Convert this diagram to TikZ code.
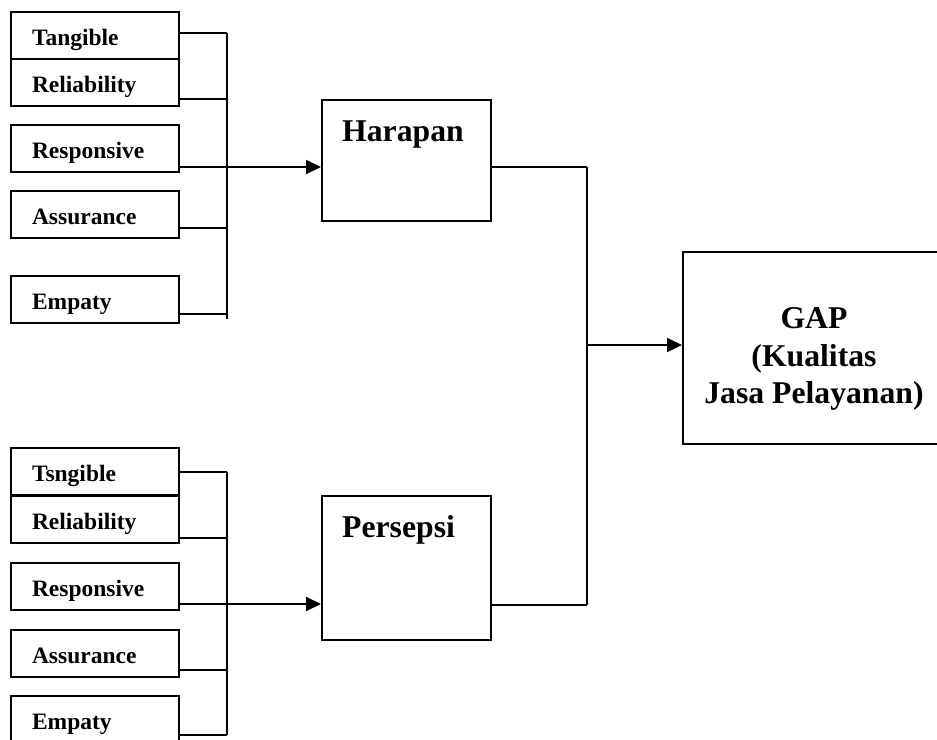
\documentclass[tikz,border=0pt]{standalone}
\usepackage{fontspec}
\setmainfont{Liberation Serif}
\usetikzlibrary{arrows.meta}

\tikzset{
  garis/.style = {line width=2pt},
  panah/.style = {garis, -{Triangle[length=15pt,width=14pt]}},
  faktor/.style = {draw, garis, minimum width=168pt, minimum height=47pt,
    inner xsep=21pt, inner ysep=0pt, text width=126pt, align=left,
    text height=22pt, text depth=2pt,
    font=\fontsize{23.5pt}{28pt}\selectfont\bfseries},
  blok/.style = {draw, garis, minimum width=169pt, inner sep=0pt},
  judul/.style = {inner sep=0pt, align=center,
    font=\fontsize{31.7pt}{37.5pt}\selectfont\bfseries}
}

\begin{document}
\begin{tikzpicture}[x = 1pt, y = -1pt]
\clip (0,0) rectangle (937,739);
% dimensi harapan
\node [faktor] (htang) at (95,35) {Tangible};
\node [faktor] (hrel) at (95,82) {Reliability};
\node [faktor] (hresp) at (95,148) {Responsive};
\node [faktor] (hass) at (95,214.5) {Assurance};
\node [faktor] (hemp) at (95,299) {Empaty};
% dimensi persepsi
\node [faktor] (ptang) at (95,471) {Tsngible};
\node [faktor] (prel) at (95,519.5) {Reliability};
\node [faktor] (presp) at (95,586.5) {Responsive};
\node [faktor] (pass) at (95,653) {Assurance};
\node [faktor] (pemp) at (95,719) {Empaty};
% kotak tengah dan kanan
\node [blok, minimum height=121pt] (harapan) at (406.5,160.5) {};
\node [judul, anchor=base west] (tharapan) at ([xshift=21pt,yshift=-42pt]harapan.north west) {Harapan};
\node [blok, minimum height=144pt] (persepsi) at (406.5,568) {};
\node [judul, anchor=base west] (tpersepsi) at ([xshift=21pt,yshift=-42pt]persepsi.north west) {Persepsi};
\node [blok, minimum width=262pt, minimum height=192pt] (gap) at (814,348) {};
\node [judul] (tgap) at (814,359) {GAP\\(Kualitas\\Jasa Pelayanan)};

% garis kumpul harapan
\coordinate (hatas) at (227,33);
\coordinate (hbawah) at (227,319);
\draw [garis] (hatas) -- (hbawah);
\draw [garis] ([yshift=2pt]htang.east) -- (hatas);
\draw [garis] ([yshift=-17pt]hrel.east) -- ++(48,0);
\draw [garis] ([yshift=-13.5pt]hass.east) -- ++(48,0);
\draw [garis] ([yshift=-15pt]hemp.east) -- ++(48,0);
\draw [panah] ([yshift=-19pt]hresp.east) -- ([yshift=-6.5pt]harapan.west);

% garis kumpul persepsi
\coordinate (patas) at (227,472);
\coordinate (pbawah) at (227,735);
\draw [garis] (patas) -- (pbawah);
\draw [garis] ([yshift=-1pt]ptang.east) -- (patas);
\draw [garis] ([yshift=-18.5pt]prel.east) -- ++(48,0);
\draw [garis] ([yshift=-17pt]pass.east) -- ++(48,0);
\draw [garis] ([yshift=-16pt]pemp.east) -- (pbawah);
\draw [panah] ([yshift=-17.5pt]presp.east) -- ([yshift=-36pt]persepsi.west);

% ke GAP
\coordinate (katas) at (587,167);
\coordinate (kbawah) at (587,605);
\coordinate (ktengah) at (587,345);
\draw [garis] (katas) -- (kbawah);
\draw [garis] ([yshift=-6.5pt]harapan.east) -- (katas);
\draw [garis] ([yshift=-37pt]persepsi.east) -- (kbawah);
\draw [panah] (ktengah) -- (ktengah -| gap.west);
\end{tikzpicture}
\end{document}
